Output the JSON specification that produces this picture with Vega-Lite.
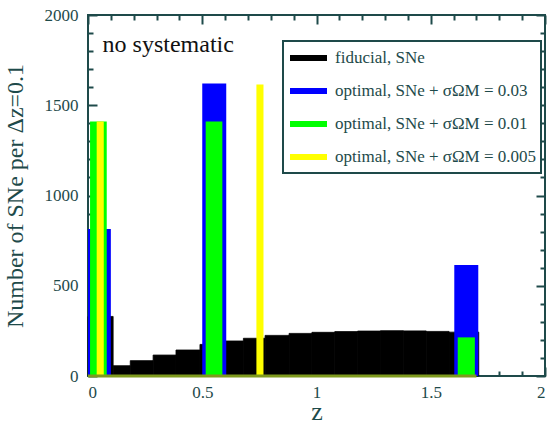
{
  "$schema": "https://vega.github.io/schema/vega-lite/v6.json",
  "width": 457,
  "height": 361,
  "autosize": "none",
  "padding": {"left": 88, "top": 15, "right": 7, "bottom": 49},
  "background": "white",
  "config": {
    "view": {"stroke": "#1e4a4a", "strokeWidth": 2},
    "axis": {
      "grid": false,
      "domain": false,
      "ticks": true,
      "zindex": 2,
      "tickColor": "#1e4a4a",
      "tickWidth": 2,
      "labelFont": "Liberation Serif",
      "labelFontSize": 17,
      "labelColor": "#1e4a4a",
      "titleFont": "Liberation Serif",
      "titleFontSize": 24,
      "titleFontWeight": "normal",
      "titleColor": "#1e4a4a"
    }
  },
  "data": {
    "values": [
      {"series": "fiducial, SNe", "z0": 0.0, "z1": 0.11, "n": 330},
      {"series": "fiducial, SNe", "z0": 0.11, "z1": 0.185, "n": 57},
      {"series": "fiducial, SNe", "z0": 0.185, "z1": 0.285, "n": 85},
      {"series": "fiducial, SNe", "z0": 0.285, "z1": 0.385, "n": 116},
      {"series": "fiducial, SNe", "z0": 0.385, "z1": 0.49, "n": 144},
      {"series": "fiducial, SNe", "z0": 0.49, "z1": 0.6, "n": 175},
      {"series": "fiducial, SNe", "z0": 0.6, "z1": 0.68, "n": 194},
      {"series": "fiducial, SNe", "z0": 0.68, "z1": 0.775, "n": 209},
      {"series": "fiducial, SNe", "z0": 0.775, "z1": 0.88, "n": 225},
      {"series": "fiducial, SNe", "z0": 0.88, "z1": 0.98, "n": 236},
      {"series": "fiducial, SNe", "z0": 0.98, "z1": 1.08, "n": 242},
      {"series": "fiducial, SNe", "z0": 1.08, "z1": 1.18, "n": 246},
      {"series": "fiducial, SNe", "z0": 1.18, "z1": 1.28, "n": 249},
      {"series": "fiducial, SNe", "z0": 1.28, "z1": 1.38, "n": 251},
      {"series": "fiducial, SNe", "z0": 1.38, "z1": 1.48, "n": 250},
      {"series": "fiducial, SNe", "z0": 1.48, "z1": 1.58, "n": 247},
      {"series": "fiducial, SNe", "z0": 1.58, "z1": 1.71, "n": 243},
      {"series": "optimal, SNe + σΩM = 0.03", "z0": 0.0, "z1": 0.1, "n": 815},
      {"series": "optimal, SNe + σΩM = 0.03", "z0": 0.5, "z1": 0.605, "n": 1620},
      {"series": "optimal, SNe + σΩM = 0.03", "z0": 1.603, "z1": 1.708, "n": 615},
      {"series": "optimal, SNe + σΩM = 0.01", "z0": 0.009, "z1": 0.082, "n": 1410},
      {"series": "optimal, SNe + σΩM = 0.01", "z0": 0.515, "z1": 0.588, "n": 1410},
      {"series": "optimal, SNe + σΩM = 0.01", "z0": 1.618, "z1": 1.693, "n": 214},
      {"series": "optimal, SNe + σΩM = 0.005", "z0": 0.038, "z1": 0.069, "n": 1410},
      {"series": "optimal, SNe + σΩM = 0.005", "z0": 0.737, "z1": 0.768, "n": 1615},
      {"series": "empty bins", "z0": 0.0, "z1": 1.7, "n": 0}
    ]
  },
  "layer": [
    {
      "transform": [{"filter": "datum.series === 'fiducial, SNe'"}],
      "mark": {"type": "rect", "strokeWidth": 0.8},
      "encoding": {
        "x": {"field": "z0", "type": "quantitative", "scale": {"domain": [0, 2], "nice": false, "zero": false},
          "axis": {"orient": "bottom", "values": [0, 0.5, 1, 1.5, 2], "format": "~g", "offset": -9, "tickSize": 9, "labelPadding": 8, "title": "z", "titleFontSize": 26, "titlePadding": -2}},
        "x2": {"field": "z1"},
        "y": {"field": "n", "type": "quantitative", "scale": {"domain": [0, 2000], "nice": false},
          "axis": {"orient": "left", "values": [0, 500, 1000, 1500, 2000], "format": "d", "offset": -9, "tickSize": 9, "labelPadding": 10, "title": "Number of SNe per Δz=0.1", "titlePadding": 17}},
        "y2": {"datum": 0},
        "color": {"field": "series", "type": "nominal",
          "scale": {"domain": ["fiducial, SNe", "optimal, SNe + σΩM = 0.03", "optimal, SNe + σΩM = 0.01", "optimal, SNe + σΩM = 0.005"],
                    "range": ["#000000", "#0000ff", "#00ff00", "#ffff00"]},
          "legend": {
            "orient": "none", "legendX": 195, "legendY": 26, "title": null,
            "padding": 4, "strokeColor": "#1e4a4a", "fillColor": "white",
            "symbolType": "M-1,0H2.7", "symbolSize": 400, "symbolStrokeWidth": 6,
            "labelFont": "Liberation Serif", "labelFontSize": 17, "labelColor": "#1e4a4a",
            "labelLimit": 400, "labelOffset": 22, "rowPadding": 8,
            "encode": {"symbols": {"update": {"stroke": {"scale": "color", "field": "value"}, "strokeWidth": {"value": 6}, "fill": {"value": "transparent"}}},
                       "legend": {"update": {"strokeWidth": {"value": 2}}}}
          }},
        "stroke": {"field": "series", "type": "nominal", "legend": null,
          "scale": {"domain": ["fiducial, SNe", "optimal, SNe + σΩM = 0.03", "optimal, SNe + σΩM = 0.01", "optimal, SNe + σΩM = 0.005"],
                    "range": ["#000000", "#0000ff", "#00ff00", "#ffff00"]}}
      }
    },
    {
      "transform": [{"filter": "datum.series === 'optimal, SNe + σΩM = 0.03'"}],
      "mark": {"type": "rect"},
      "encoding": {
        "x": {"field": "z0", "type": "quantitative",
          "axis": {"orient": "bottom", "values": [0.1, 0.2, 0.3, 0.4, 0.6, 0.7, 0.8, 0.9, 1.1, 1.2, 1.3, 1.4, 1.6, 1.7, 1.8, 1.9], "labels": false, "offset": -5, "tickSize": 5, "title": null}},
        "x2": {"field": "z1"},
        "y": {"field": "n", "type": "quantitative",
          "axis": {"orient": "left", "values": [100, 200, 300, 400, 600, 700, 800, 900, 1100, 1200, 1300, 1400, 1600, 1700, 1800, 1900], "labels": false, "offset": -5, "tickSize": 5, "title": null}},
        "y2": {"datum": 0},
        "color": {"field": "series", "type": "nominal"}
      }
    },
    {
      "transform": [{"filter": "datum.series === 'optimal, SNe + σΩM = 0.01' || datum.series === 'optimal, SNe + σΩM = 0.005'"}],
      "mark": {"type": "rect"},
      "encoding": {
        "x": {"field": "z0", "type": "quantitative",
          "axis": {"orient": "top", "values": [0, 0.5, 1, 1.5, 2], "labels": false, "offset": -9, "tickSize": 9, "title": null}},
        "x2": {"field": "z1"},
        "y": {"field": "n", "type": "quantitative",
          "axis": {"orient": "right", "values": [0, 500, 1000, 1500, 2000], "labels": false, "offset": -9, "tickSize": 9, "title": null}},
        "y2": {"datum": 0},
        "color": {"field": "series", "type": "nominal"}
      }
    },
    {
      "transform": [{"filter": "datum.series === 'empty bins'"}],
      "mark": {"type": "rule", "stroke": "#7f9a1e", "strokeWidth": 3},
      "encoding": {
        "x": {"field": "z0", "type": "quantitative",
          "axis": {"orient": "top", "values": [0.1, 0.2, 0.3, 0.4, 0.6, 0.7, 0.8, 0.9, 1.1, 1.2, 1.3, 1.4, 1.6, 1.7, 1.8, 1.9], "labels": false, "offset": -5, "tickSize": 5, "title": null}},
        "x2": {"field": "z1"},
        "y": {"field": "n", "type": "quantitative",
          "axis": {"orient": "right", "values": [100, 200, 300, 400, 600, 700, 800, 900, 1100, 1200, 1300, 1400, 1600, 1700, 1800, 1900], "labels": false, "offset": -5, "tickSize": 5, "title": null}}
      }
    },
    {
      "data": {"values": [{"label": "no systematic"}]},
      "mark": {"type": "text", "align": "left", "baseline": "middle", "font": "Liberation Serif", "fontSize": 24, "color": "#111111"},
      "encoding": {
        "text": {"field": "label"},
        "x": {"datum": 0.064, "type": "quantitative", "axis": null},
        "y": {"datum": 1834, "type": "quantitative", "axis": null}
      }
    }
  ],
  "resolve": {"axis": {"x": "independent", "y": "independent"}}
}
